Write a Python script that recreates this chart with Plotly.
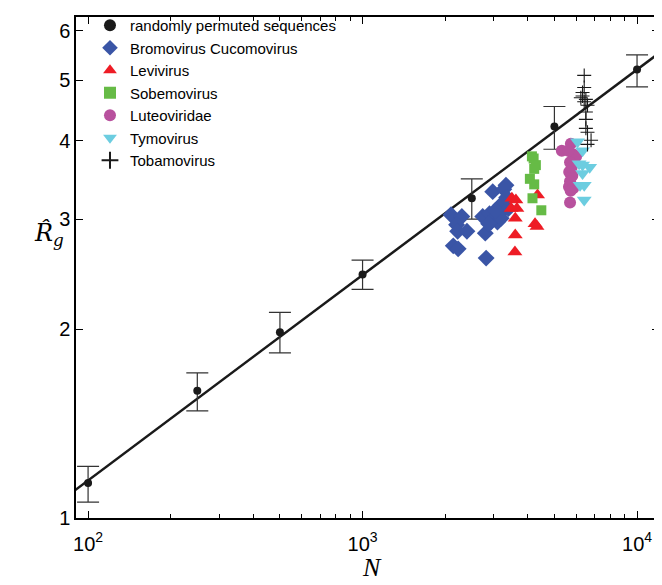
import numpy as np
import plotly.graph_objects as go

# ---- data ----
rand_N = [100, 250, 500, 1000, 2500, 5000, 10000]
rand_R = [1.137, 1.596, 1.98, 2.448, 3.24, 4.22, 5.20]
rand_hi = [1.209, 1.705, 2.13, 2.58, 3.48, 4.54, 5.49]
rand_lo = [1.06, 1.483, 1.835, 2.318, 3.00, 3.88, 4.88]

fit_exponent = 0.328
fit_prefactor = 0.2535

bromo_N = [2100, 2300, 2200, 2220, 2400, 2140, 2230, 2820, 2800, 2980, 3330, 3270,
           2740, 2900, 2940, 3100, 3150, 3190, 3280, 3400, 3020, 3200, 2880, 3050, 3350]
bromo_R = [3.05, 3.03, 2.94, 2.87, 2.87, 2.72, 2.69, 2.60, 2.85, 3.32, 3.40, 3.35,
           3.03, 3.06, 2.97, 2.97, 3.06, 3.16, 3.20, 3.12, 3.01, 3.01, 2.95, 3.10, 3.25]

levi_N = [3500, 3620, 3480, 3650, 3600, 3600, 3590, 4250, 4320, 4340]
levi_R = [3.24, 3.22, 3.12, 3.12, 3.01, 2.83, 2.66, 2.95, 2.92, 3.28]

sobemo_N = [4140, 4200, 4280, 4220, 4070, 4220, 4160, 4480]
sobemo_R = [3.78, 3.75, 3.66, 3.61, 3.48, 3.41, 3.24, 3.10]

luteo_N = [5320, 5740, 5850, 6000, 5700, 5660, 5810, 5700, 5650, 5850, 5730, 5700, 5780, 5620]
luteo_R = [3.86, 3.96, 3.81, 3.78, 3.70, 3.57, 3.52, 3.45, 3.38, 3.36, 3.33, 3.19, 3.63, 3.86]

tymo_N = [6070, 6330, 6150, 6330, 6720, 6330, 6200, 6420, 6420]
tymo_R = [3.99, 3.86, 3.68, 3.66, 3.63, 3.55, 3.40, 3.40, 3.22]

tobamo_N = [6420, 6420, 6330, 6240, 6510, 6600, 6510, 6510, 6600, 6800, 6600, 6330, 6420, 6510]
tobamo_R = [5.09, 4.87, 4.78, 4.69, 4.66, 4.56, 4.33, 4.19, 4.13, 4.01, 3.95, 4.72, 4.62, 4.45]

x_tickvals = [100, 1000, 10000]
x_ticktext = ["10<sup>2</sup>", "10<sup>3</sup>", "10<sup>4</sup>"]
y_tickvals = [1, 2, 3, 4, 5, 6]

# ---- figure ----
fig = go.Figure()

line_N = np.logspace(1.9, 4.2, 50)
fig.add_trace(go.Scatter(x=line_N, y=fit_prefactor * line_N ** fit_exponent, mode="lines",
                         line=dict(color="#1a1a1a", width=2.5), showlegend=False, hoverinfo="skip"))

fig.add_trace(go.Scatter(
    x=rand_N, y=rand_R, mode="markers", name="randomly permuted sequences",
    marker=dict(color="#1a1a1a", size=8, symbol="circle"),
    error_y=dict(type="data", symmetric=False,
                 array=[h - r for h, r in zip(rand_hi, rand_R)],
                 arrayminus=[r - l for r, l in zip(rand_R, rand_lo)],
                 color="#333333", thickness=1.2, width=11)))

fig.add_trace(go.Scatter(x=bromo_N, y=bromo_R, mode="markers", name="Bromovirus Cucomovirus",
                         marker=dict(color="#3a55a6", size=13, symbol="diamond")))
fig.add_trace(go.Scatter(x=levi_N, y=levi_R, mode="markers", name="Levivirus",
                         marker=dict(color="#ee1c25", size=13, symbol="triangle-up")))
fig.add_trace(go.Scatter(x=sobemo_N, y=sobemo_R, mode="markers", name="Sobemovirus",
                         marker=dict(color="#66bb46", size=10, symbol="square")))
fig.add_trace(go.Scatter(x=luteo_N, y=luteo_R, mode="markers", name="Luteoviridae",
                         marker=dict(color="#b8519e", size=12, symbol="circle")))
fig.add_trace(go.Scatter(x=tymo_N, y=tymo_R, mode="markers", name="Tymovirus",
                         marker=dict(color="#6ccde0", size=13, symbol="triangle-down")))
fig.add_trace(go.Scatter(x=tobamo_N, y=tobamo_R, mode="markers", name="Tobamovirus",
                         marker=dict(color="#1a1a1a", size=10, symbol="cross-thin",
                                     line=dict(color="#1a1a1a", width=1.1))))

axis_common = dict(showline=True, linecolor="black", linewidth=1.5, mirror="allticks",
                   ticks="inside", tickcolor="black", showgrid=False, zeroline=False,
                   tickfont=dict(family="Liberation Sans, Arial", size=20, color="black"))

fig.update_xaxes(type="log", range=[1.956, 4.08], tickvals=x_tickvals, ticktext=x_ticktext,
                 ticklen=7, ticklabelstandoff=7,
                 minor=dict(ticks="inside", ticklen=4, tickcolor="black",
                            tickvals=[200, 300, 400, 500, 600, 700, 800, 900,
                                      2000, 3000, 4000, 5000, 6000, 7000, 8000, 9000]),
                 **axis_common)
fig.update_yaxes(type="log", range=[0, 0.8], tickvals=y_tickvals,
                 ticktext=[str(v) for v in y_tickvals], ticklen=7, **axis_common)

fig.add_annotation(text="<i>N</i>", x=0.508, y=-0.099, xref="paper", yref="paper",
                   xanchor="center", yanchor="middle",
                   showarrow=False, font=dict(family="Liberation Serif", size=26, color="black"))
fig.add_annotation(text="<i>R\u0302</i><sub><i>g</i></sub>", x=-0.047, y=0.565,
                   xref="paper", yref="paper", xanchor="center", yanchor="middle",
                   showarrow=False,
                   font=dict(family="DejaVu Serif", size=24, color="black"))

fig.update_layout(
    width=654, height=577, paper_bgcolor="white", plot_bgcolor="white",
    margin=dict(l=68, r=1, t=6, b=67),
    legend=dict(x=0.024, y=1.016, xanchor="left", yanchor="top", bgcolor="rgba(0,0,0,0)",
                font=dict(family="Liberation Sans, Arial", size=15, color="black"),
                tracegroupgap=0, itemsizing="constant"),
)

fig.write_html("out.html")
